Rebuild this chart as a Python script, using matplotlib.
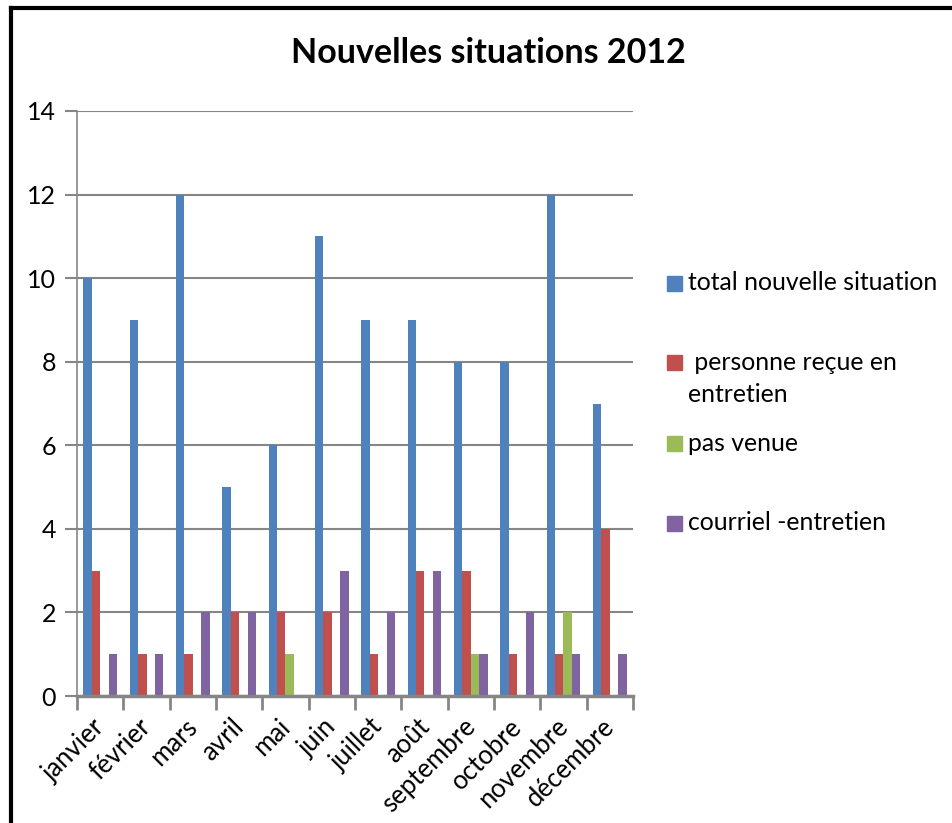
import matplotlib
matplotlib.use("Agg")
import matplotlib.pyplot as plt
import numpy as np
from matplotlib.patches import Rectangle
from matplotlib.lines import Line2D
from matplotlib.transforms import ScaledTranslation

months = ["janvier", "février", "mars", "avril", "mai", "juin", "juillet",
          "août", "septembre", "octobre", "novembre", "décembre"]
total = [10, 9, 12, 5, 6, 11, 9, 9, 8, 8, 12, 7]
personne = [3, 1, 1, 2, 2, 2, 1, 3, 3, 1, 1, 4]
pas_venue = [0, 0, 0, 0, 1, 0, 0, 0, 1, 0, 2, 0]
courriel = [1, 1, 2, 2, 0, 3, 2, 3, 1, 2, 1, 1]
series_names = ["total nouvelle situation", " personne reçue en\nentretien",
                "pas venue", "courriel -entretien"]
colors = ["#4F81BD", "#C0504D", "#9BBB59", "#8064A2"]
yticks = [0, 2, 4, 6, 8, 10, 12, 14]

W, H = 953, 823
fig = plt.figure(figsize=(W / 100, H / 100), dpi=100)
font = "Lato"

ax = fig.add_axes([77 / W, 1 - 696 / H, (633 - 77) / W, (696 - 111) / H])
series = [total, personne, pas_venue, courriel]
bw = 0.183
x = np.arange(len(months))
for i, (vals, c) in enumerate(zip(series, colors)):
    ax.bar(x + (i - 1.5) * bw, vals, width=bw, color=c, zorder=3)

ax.set_xlim(-0.5, len(months) - 0.5)
ax.set_ylim(0, 14)
ax.set_yticks(yticks)
ax.set_yticklabels([str(v) for v in yticks], fontsize=18, family=font)
ax.yaxis.grid(True, color="#868686", linewidth=1.5, zorder=0)
ax.tick_params(axis="y", length=9, color="#868686", width=1.5, pad=6)
ax.set_xticks(np.arange(-0.5, len(months), 1))
ax.set_xticklabels([])
ax.set_xticks(x, minor=True)
ax.set_xticklabels(months, minor=True, rotation=45, ha="right",
                   rotation_mode="anchor", fontsize=18.5, family=font)
ax.tick_params(axis="x", which="major", length=10, color="#868686", width=2)
ax.tick_params(axis="x", which="minor", length=0, pad=13)
shift = ScaledTranslation(-8 / 100, 0, fig.dpi_scale_trans)
for lbl in ax.get_xticklabels(minor=True):
    lbl.set_transform(lbl.get_transform() + shift)
for side in ["top", "right"]:
    ax.spines[side].set_visible(False)
ax.spines["left"].set_color("#868686")
ax.spines["left"].set_linewidth(1.2)
ax.spines["bottom"].set_color("#868686")
ax.spines["bottom"].set_linewidth(2.5)
ax.spines["bottom"].set_zorder(4)

fig.text(488 / W, 1 - 53 / H, "Nouvelles situations 2012", ha="center",
         va="center", fontsize=24.5, fontweight="bold", family=font)

# Legend
leg_y = [283, 362, 443, 523]
for name, c, yy in zip(series_names, colors, leg_y):
    fig.patches.append(Rectangle((667 / W, 1 - (yy + 8) / H), 15 / W, 15 / H,
                                 transform=fig.transFigure, color=c))
    for k, line in enumerate(name.split("\n")):
        fig.text(688 / W, 1 - (yy + 33 * k) / H, line, ha="left", va="center",
                 fontsize=17.8, family=font)

# frame
fig.add_artist(Line2D([11 / W, 11 / W], [0, 1 - 8 / H], color="black", linewidth=3,
                      transform=fig.transFigure))
fig.add_artist(Line2D([11 / W, 1], [1 - 8 / H, 1 - 8 / H], color="black", linewidth=3,
                      transform=fig.transFigure))

fig.savefig("out.png", dpi=100)
